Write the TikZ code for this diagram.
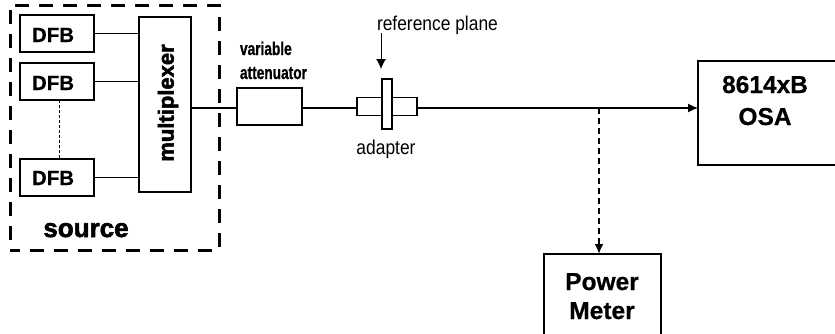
\documentclass[tikz,border=0pt]{standalone}
\usepackage{fontspec}
\setmainfont{Liberation Sans}
\newfontfamily\condb{Liberation Sans Bold}[FakeStretch=0.74,FakeBold=0.8]
\newfontfamily\narr{Liberation Sans}[FakeStretch=0.87]
\newfontfamily\heavyb{Liberation Sans Bold}[FakeBold=2.2]
\newfontfamily\boldf{Liberation Sans Bold}[FakeBold=0.6]
\usetikzlibrary{arrows.meta}
\begin{document}
\begin{tikzpicture}[x=1pt,y=-1pt,
  every node/.style={inner sep=0pt, outer sep=0pt},
  blk/.style={draw, line width=1.3pt, fill=white},
  conn/.style={line width=1.3pt},
  tip/.style={-{Latex[length=10pt,width=9pt]}},
  dfbbox/.style={blk, minimum width=74pt, minimum height=37pt},
  dfbtxt/.style={font=\boldf\fontsize{20.5}{20.5}\selectfont, anchor=base},
  bigtxt/.style={font=\boldf\fontsize{24.5}{24.5}\selectfont, anchor=base},
  smalltxt/.style={font=\narr\fontsize{20}{20}\selectfont, anchor=base}]
\useasboundingbox (0,0) rectangle (835,333);
\clip (0,0) rectangle (835,333);
% source frame
\node[draw, line width=3pt, dash pattern=on 14pt off 10pt, dash phase=4pt,
      minimum width=209pt, minimum height=245pt] (src) at (114.5,127.5) {};
\node[font=\heavyb\fontsize{26}{26}\selectfont, anchor=base] (srclbl) at (86,237) {source};
% DFBs
\node[dfbbox] (d1) at (57,33.5) {};
\node[dfbbox] (d2) at (57,81.5) {};
\node[dfbbox] (d3) at (57,177.5) {};
\node[dfbtxt] (t1) at (53,42) {DFB};
\node[dfbtxt] (t2) at (53,90) {DFB};
\node[dfbtxt] (t3) at (53,185) {DFB};
% multiplexer
\node[blk, minimum width=52pt, minimum height=175pt] (mux) at (165,104.5) {};
\node[font=\heavyb\fontsize{22}{22}\selectfont, rotate=90] (muxt) at (168,103) {multiplexer};
\draw[conn] (d1.east) -- (d1.east -| mux.west);
\draw[conn] (d2.east) -- (d2.east -| mux.west);
\draw[conn] (d3.east) -- (d3.east -| mux.west);
\draw[line width=1pt, dash pattern=on 3pt off 2pt] ([xshift=2pt]d2.south) -- ([xshift=2pt]d3.north);
% attenuator
\node[blk, minimum width=65pt, minimum height=37pt] (att) at (269.5,106.5) {};
\node[font=\condb\fontsize{18.5}{18.5}\selectfont, anchor=base west] (attt1) at (240,55) {variable};
\node[font=\condb\fontsize{18.5}{18.5}\selectfont, anchor=base west] (attt2) at (240,79) {attenuator};
\coordinate (mo) at (191,108);
\draw[conn] (mo) -- (mo -| att.west);
% adapter
\node[blk, minimum width=26pt, minimum height=18pt] (adl) at (370,106.5) {};
\node[blk, minimum width=25pt, minimum height=18pt] (adr) at (404.5,106.5) {};
\node[blk, minimum width=10pt, minimum height=50pt] (fl) at (387,104) {};
\draw[conn] (att.east |- mo) -- (adl.west |- mo);
\node[smalltxt] (adt) at (386,154) {adapter};
\node[smalltxt, anchor=base west] (reft) at (377,30) {reference plane};
\coordinate (ra) at (381,33);
\coordinate (rb) at (381,69);
\draw[line width=1pt, -{Latex[length=10pt,width=10pt]}] (ra) -- (rb);
% OSA
\node[blk, line width=1.6pt, minimum width=142pt, minimum height=104pt] (osa) at (769,113) {};
\node[bigtxt] (osat1) at (765,93) {8614xB};
\node[bigtxt] (osat2) at (765,125) {OSA};
\draw[conn, tip] (adr.east |- mo) -- (osa.west |- mo);
% power meter
\node[blk, line width=1.6pt, minimum width=117pt, minimum height=90pt] (pm) at (602.5,299) {};
\node[bigtxt] (pmt1) at (602,290) {Power};
\node[bigtxt] (pmt2) at (602,319) {Meter};
\coordinate (tap) at (599,108);
\draw[line width=2pt, dash pattern=on 6pt off 4pt, -{Latex[length=10pt,width=9pt]}] (tap) -- (tap |- pm.north);
\end{tikzpicture}
\end{document}
